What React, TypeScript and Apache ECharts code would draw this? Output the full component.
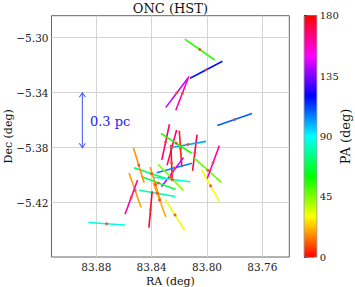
import React, { useEffect, useRef } from 'react';
import * as echarts from 'echarts';

// Segment centres (RA, Dec in deg) and position angles (deg, east of north)
const SEG_RA = [
  83.8052, 83.8005, 83.8218, 83.8178, 83.7800, 83.8299, 83.8254, 83.8191,
  83.8256, 83.8088, 83.8138, 83.8236, 83.8222, 83.7994, 83.7956, 83.7974,
  83.8249, 83.8263, 83.8402, 83.8351, 83.8251, 83.8359, 83.8493, 83.8520,
  83.8372, 83.8343, 83.8547, 83.8408, 83.8231, 83.8725,
];
const SEG_DEC = [
  -5.3086, -5.3233, -5.3401, -5.3404, -5.3595, -5.3759, -5.3799, -5.3809,
  -5.3911, -5.3836, -5.3777, -5.3948, -5.3768, -5.3964, -5.3909, -5.4077,
  -5.3978, -5.4015, -5.3989, -5.4057, -5.4031, -5.4132, -5.3928, -5.4110,
  -5.4068, -5.4180, -5.4160, -5.4249, -5.4289, -5.4353,
];
const SEG_PA = [
  55, 118, 143, 159, 109, 168, 165, 4,
  2, 173, 100, 105, 57, 48, 160, 29,
  143, 44, 71, 69, 83, 80, 17, 19,
  17, 20, 160, 175, 32, 86,
];
const SEG_LEN = 0.0265; // deg

const RA_MIN = 83.7405;
const RA_MAX = 83.9124;
const DEC_MIN = -5.4595;
const DEC_MAX = -5.284;
const RA_TICKS = [83.76, 83.8, 83.84, 83.88];
const DEC_TICKS = [-5.42, -5.38, -5.34, -5.3];
const PA_MIN = 0;
const PA_MAX = 180;
const PA_INTERVAL = 45;

const SCALE_RA = 83.8901;
const SCALE_DEC_TOP = -5.34;
const SCALE_DEC_BOTTOM = -5.38;
const SCALE_LABEL = '0.3 pc';
const SCALE_LABEL_RA = 83.8846;
const SCALE_LABEL_DEC = -5.3613;

const HSV_COLORS = ['#ff0000', '#ffff00', '#00ff00', '#00ffff', '#0000ff', '#ff00ff', '#ff0000'];
const FONT = 'DejaVu Serif';

export default function App() {
  const ref = useRef<HTMLDivElement>(null);
  useEffect(() => {
    document.body.style.margin = '0';
    const chart = echarts.init(ref.current as HTMLDivElement, null, { renderer: 'svg' });
    const segData = SEG_RA.map((r, i) => [r, SEG_DEC[i], SEG_PA[i]]);
    const dotData = SEG_RA.map((r, i) => [r, SEG_DEC[i]]);
    const minus = (s: string) => s.replace('-', '\u2212');
    const labelStyle = { fontFamily: FONT, fontSize: 10.5, color: '#222' };

    chart.setOption({
      animation: false,
      graphic: [
        {
          type: 'text',
          x: 170.4,
          y: 8,
          style: {
            text: 'ONC (HST)',
            fill: '#111',
            font: `13px "${FONT}"`,
            textAlign: 'center',
            textVerticalAlign: 'middle',
          },
        },
      ],
      grid: [
        { left: 51.5, top: 15.7, width: 237.8, height: 241.3, containLabel: false, outerBoundsMode: 'none', show: true, borderColor: '#666', borderWidth: 1, backgroundColor: 'transparent' },
        { left: 304.3, top: 15.7, width: 12.4, height: 241.3, containLabel: false, outerBoundsMode: 'none', show: true, borderColor: '#222', borderWidth: 0.8, backgroundColor: 'transparent' },
      ],
      xAxis: [
        {
          type: 'value',
          gridIndex: 0,
          inverse: true,
          min: RA_MIN,
          max: RA_MAX,
          axisLine: { show: false },
          axisTick: { show: false, customValues: RA_TICKS },
          axisLabel: { customValues: RA_TICKS, formatter: (v: number) => v.toFixed(2), margin: 4, ...labelStyle },
          splitLine: { show: true, lineStyle: { color: '#d4d4d4', width: 1 } },
          name: 'RA (deg)',
          nameLocation: 'middle',
          nameGap: 19,
          nameMoveOverlap: false,
          nameTextStyle: { fontFamily: FONT, fontSize: 11, color: '#111' },
        },
        { type: 'value', gridIndex: 1, show: false, min: 0, max: 1 },
      ],
      yAxis: [
        {
          type: 'value',
          gridIndex: 0,
          min: DEC_MIN,
          max: DEC_MAX,
          axisLine: { show: false },
          axisTick: { show: false, customValues: DEC_TICKS },
          axisLabel: { customValues: DEC_TICKS, formatter: (v: number) => minus(v.toFixed(2)), margin: 3, ...labelStyle },
          splitLine: { show: true, lineStyle: { color: '#d4d4d4', width: 1 } },
          name: 'Dec (deg)',
          nameLocation: 'middle',
          nameGap: 38,
          nameMoveOverlap: false,
          nameTextStyle: { fontFamily: FONT, fontSize: 11, color: '#111' },
        },
        {
          type: 'value',
          gridIndex: 1,
          position: 'right',
          min: PA_MIN,
          max: PA_MAX,
          interval: PA_INTERVAL,
          axisLine: { show: false },
          axisTick: { show: true, length: 2.5, lineStyle: { color: '#222', width: 0.8 } },
          axisLabel: { margin: 3, fontFamily: FONT, fontSize: 10, color: '#222' },
          splitLine: { show: false },
          name: 'PA (deg)',
          nameLocation: 'middle',
          nameGap: 22,
          nameMoveOverlap: false,
          nameTextStyle: { fontFamily: FONT, fontSize: 13, color: '#111' },
        },
      ],
      visualMap: {
        type: 'continuous',
        show: true,
        min: PA_MIN,
        max: PA_MAX,
        dimension: 2,
        seriesIndex: 0,
        orient: 'vertical',
        left: 304.3,
        top: 15.7,
        itemWidth: 12.4,
        itemHeight: 241.3,
        padding: 0,
        calculable: false,
        hoverLink: false,
        inRange: { color: HSV_COLORS },
      },
      series: [
        {
          type: 'custom',
          xAxisIndex: 0,
          yAxisIndex: 0,
          silent: true,
          encode: { x: 0, y: 1 },
          data: segData,
          renderItem: (_p: any, api: any) => {
            const ra = api.value(0);
            const dec = api.value(1);
            const pa = (api.value(2) * Math.PI) / 180;
            const h = SEG_LEN / 2;
            const p1 = api.coord([ra + h * Math.sin(pa), dec + h * Math.cos(pa)]);
            const p2 = api.coord([ra - h * Math.sin(pa), dec - h * Math.cos(pa)]);
            return {
              type: 'line',
              shape: { x1: p1[0], y1: p1[1], x2: p2[0], y2: p2[1] },
              style: { stroke: api.visual('color'), lineWidth: 1.6 },
            };
          },
        },
        {
          type: 'scatter',
          xAxisIndex: 0,
          yAxisIndex: 0,
          silent: true,
          data: dotData,
          symbol: 'circle',
          symbolSize: 3,
          itemStyle: { color: '#e8502f', opacity: 0.9 },
        },
        {
          type: 'custom',
          xAxisIndex: 0,
          yAxisIndex: 0,
          silent: true,
          encode: { x: 0, y: [1, 2] },
          data: [[SCALE_RA, SCALE_DEC_TOP, SCALE_DEC_BOTTOM]],
          renderItem: (_p: any, api: any) => {
            const t = api.coord([api.value(0), api.value(1)]);
            const b = api.coord([api.value(0), api.value(2)]);
            const lab = api.coord([SCALE_LABEL_RA, SCALE_LABEL_DEC]);
            const stroke = '#5060f0';
            return {
              type: 'group',
              children: [
                { type: 'line', shape: { x1: t[0], y1: t[1], x2: b[0], y2: b[1] }, style: { stroke, lineWidth: 1.1 } },
                { type: 'polyline', shape: { points: [[t[0] - 3, t[1] + 4.5], [t[0], t[1]], [t[0] + 3, t[1] + 4.5]] }, style: { stroke, fill: 'none', lineWidth: 1.1 } },
                { type: 'polyline', shape: { points: [[b[0] - 3, b[1] - 4.5], [b[0], b[1]], [b[0] + 3, b[1] - 4.5]] }, style: { stroke, fill: 'none', lineWidth: 1.1 } },
                {
                  type: 'text',
                  x: lab[0],
                  y: lab[1],
                  style: { text: SCALE_LABEL, fill: '#1a22ff', font: `13px "${FONT}"`, textAlign: 'left', textVerticalAlign: 'middle' },
                },
              ],
            };
          },
        },
      ],
    });
    return () => chart.dispose();
  }, []);
  return <div ref={ref} style={{ width: 355, height: 287 }} />;
}
